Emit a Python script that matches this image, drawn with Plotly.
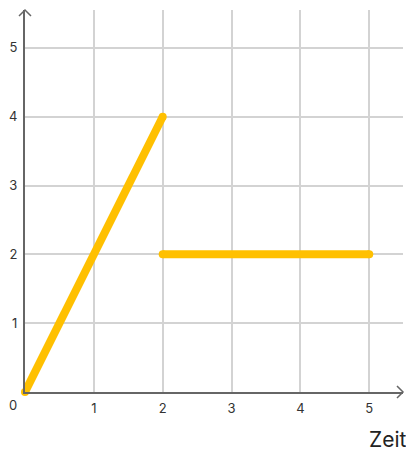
import plotly.graph_objects as go

# two segments of the line
seg1_x = [0, 2]
seg1_y = [0, 4]
seg2_x = [2, 5]
seg2_y = [2, 2]

tick_vals = [1, 2, 3, 4, 5]
tick_text = ["1", "2", "3", "4", "5"]
x_title = "Zeit"

LINE_COLOR = "#FFC000"
GRID = "#D3D3D3"
AXIS = "#666666"
TEXT = "#333333"
FONT = "Inter, Roboto, sans-serif"

fig = go.Figure()
for xs, ys in [(seg1_x, seg1_y), (seg2_x, seg2_y)]:
    fig.add_trace(
        go.Scatter(
            x=xs,
            y=ys,
            mode="lines+markers",
            line={"color": LINE_COLOR, "width": 8},
            marker={"color": LINE_COLOR, "size": 8},
            showlegend=False,
            hoverinfo="skip",
            cliponaxis=False,
        )
    )

# arrow heads at the axis ends
arrow = {"type": "path", "line": {"color": AXIS, "width": 1.5}, "layer": "above",
         "xsizemode": "pixel", "ysizemode": "pixel", "xref": "paper", "yref": "paper"}
fig.add_shape(**arrow, xanchor=1, yanchor=0, path="M -6,6 L 0,0 L -6,-6")
fig.add_shape(**arrow, xanchor=0, yanchor=1, path="M -6,-6 L 0,0 L 6,-6")

fig.add_annotation(x=0, y=0, xref="x", yref="y", text="0", showarrow=False,
                   xshift=-12, yshift=-13, font={"size": 13, "color": TEXT, "family": FONT})
fig.add_annotation(x=1.0, y=-0.125, xref="paper", yref="paper", yanchor="middle", xanchor="right",
                   xshift=6, text=x_title, showarrow=False,
                   font={"size": 21, "color": "#222222", "family": FONT})

# the page body has an 8px margin, so the figure is 8px smaller
fig.update_layout(
    width=406,
    height=446,
    margin={"l": 17, "r": 11, "t": 2, "b": 62, "autoexpand": False},
    paper_bgcolor="white",
    plot_bgcolor="white",
    font={"family": FONT, "color": TEXT, "size": 13},
    xaxis={
        "range": [0, 5.49],
        "tickvals": tick_vals,
        "ticktext": tick_text,
        "showgrid": True,
        "gridcolor": GRID,
        "gridwidth": 2,
        "zeroline": False,
        "showline": True,
        "linecolor": AXIS,
        "linewidth": 2,
        "ticks": "",
        "ticklabelstandoff": 3,
        "automargin": False,
    },
    yaxis={
        "range": [0, 5.55],
        "tickvals": tick_vals,
        "ticktext": tick_text,
        "showgrid": True,
        "gridcolor": GRID,
        "gridwidth": 2,
        "zeroline": False,
        "showline": True,
        "linecolor": AXIS,
        "linewidth": 2,
        "ticks": "",
        "ticklabelstandoff": 3,
        "automargin": False,
    },
)

fig.write_html("out.html")
